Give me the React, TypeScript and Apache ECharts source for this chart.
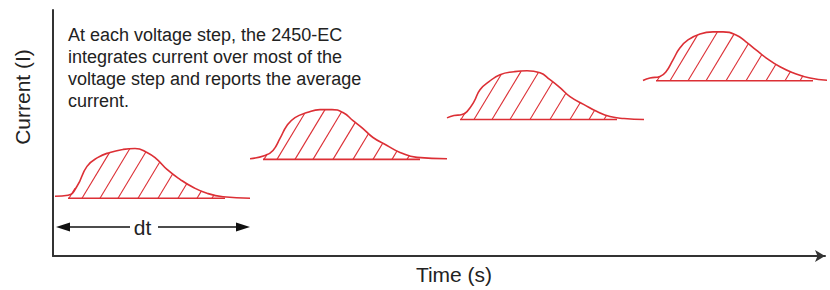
import React, { useEffect, useRef } from "react";
import * as echarts from "echarts";

// ---- data (time and current in arbitrary units) ----
const stepStart = [2, 197, 394, 590]; // time at which each voltage step begins
const stepBase = [58, 97, 137, 176]; // baseline current during each step

// current transient for each step: [time since step, current above baseline]
const hump1: number[][] = [[0, 2], [13, 3], [22, 12], [32, 32], [43, 41], [55, 46], [68, 49], [80, 50], [92, 46], [102, 39], [112, 29], [125, 19], [138, 11], [152, 5], [168, 1.5], [195, 0]];
const hump2: number[][] = [[0, 0.7], [15, 4], [23, 9], [30, 21], [37, 34], [45, 42], [57, 47], [70, 50], [82, 50], [93, 47], [103, 39], [113, 31], [123, 22], [137, 14], [150, 7], [167, 2], [197, 0.7]];
const hump3: number[][] = [[0, 1.7], [7, 4], [15, 5], [20, 8], [27, 18], [33, 30], [42, 38], [53, 45], [67, 48], [80, 49], [93, 47], [103, 40], [113, 32], [123, 23], [137, 15], [150, 8], [163, 3], [177, 1], [197, 0]];
const hump4: number[][] = [[0, 0.3], [7, 2.7], [17, 4.3], [23, 9], [30, 21], [37, 33], [45, 41], [57, 47], [70, 49], [80, 49], [93, 46], [103, 39], [113, 31], [123, 23], [137, 14], [150, 8], [167, 2.7], [187, 0.3]];
const humps = [hump1, hump2, hump3, hump4];

// integration window inside each step and hatch lines
const integrationWindow = [13, 170];
const hatchOffsets = [14, 27, 45, 63, 83, 103, 123, 142, 157];
const hatchSlope = 0.6;

// dt arrow
const dtArrow = [10, 190];
const dtGap = [77, 105];
const dtLevel = 29;
const dtLabelAt = 89.5;

const noteLines = [
  "At each voltage step, the 2450-EC",
  "integrates current over most of the",
  "voltage step and reports the average",
  "current.",
];

const RED = "#dc2f35";
const FONT = "'Liberation Sans', Arial, sans-serif";

function heightAt(profile: number[][], dx: number): number {
  if (dx <= profile[0][0]) return profile[0][1];
  for (let i = 1; i < profile.length; i++) {
    const [x1, y1] = profile[i];
    const [x0, y0] = profile[i - 1];
    if (dx <= x1) return y0 + ((y1 - y0) * (dx - x0)) / (x1 - x0);
  }
  return 0;
}

function hatchTop(profile: number[][], b: number): number {
  for (let t = 0.5; t < 80; t += 0.1) {
    if (heightAt(profile, b + hatchSlope * t) <= t) return t;
  }
  return 0;
}

function buildOption() {
  const series: any[] = [];
  const hatchData: any[] = [];
  humps.forEach((profile, i) => {
    const s = stepStart[i];
    const base = stepBase[i];
    series.push({
      type: "line",
      data: profile.map(([dx, h]) => [s + dx, base + h]),
      smooth: 0.5,
      showSymbol: false,
      clip: false,
      silent: true,
      lineStyle: { color: RED, width: 1.6 },
    });
    const baseSeries: any = {
      type: "line",
      data: [
        [s + integrationWindow[0], base],
        [s + integrationWindow[1], base],
      ],
      showSymbol: false,
      silent: true,
      lineStyle: { color: RED, width: 1.6 },
    };
    if (i === 0) {
      baseSeries.markLine = {
        silent: true,
        animation: false,
        lineStyle: { color: "#111", width: 1.5, type: "solid" },
        label: { show: false },
        data: [
          [
            { coord: [dtArrow[0], dtLevel], symbol: "triangle", symbolSize: [9, 14] },
            { coord: [dtGap[0], dtLevel], symbol: "none" },
          ],
          [
            { coord: [dtGap[1], dtLevel], symbol: "none" },
            { coord: [dtArrow[1], dtLevel], symbol: "triangle", symbolSize: [9, 14] },
          ],
        ],
      };
      baseSeries.markPoint = {
        silent: true,
        animation: false,
        symbol: "circle",
        symbolSize: 1,
        itemStyle: { color: "rgba(0,0,0,0)" },
        label: {
          show: true,
          position: "inside",
          formatter: "dt",
          color: "#222",
          fontSize: 21,
          fontFamily: FONT,
        },
        data: [{ coord: [dtLabelAt, dtLevel] }],
      };
    }
    series.push(baseSeries);
    hatchOffsets.forEach((b) => {
      const t = hatchTop(profile, b);
      if (t > 0) {
        hatchData.push({
          coords: [
            [s + b, base],
            [s + b + hatchSlope * t, base + t],
          ],
        });
      }
    });
  });
  series.push({
    type: "lines",
    coordinateSystem: "cartesian2d",
    silent: true,
    data: hatchData,
    lineStyle: { color: RED, width: 1.1, opacity: 1 },
  });

  return {
    animation: false,
    backgroundColor: "#fff",
    textStyle: { fontFamily: FONT },
    grid: { left: 53, right: 5, top: 10, bottom: 33 },
    xAxis: {
      type: "value",
      min: 0,
      max: 772,
      name: "Time (s)",
      nameLocation: "middle",
      nameGap: 8,
      nameTextStyle: {
        fontSize: 21,
        color: "#222",
        fontFamily: FONT,
        verticalAlign: "top",
        padding: [0, 0, 0, 30],
      },
      axisLine: {
        show: true,
        symbol: ["none", "arrow"],
        symbolSize: [9, 10],
        lineStyle: { color: "#333", width: 2 },
      },
      axisTick: { show: false },
      axisLabel: { show: false },
      splitLine: { show: false },
    },
    yAxis: {
      type: "value",
      min: 0,
      max: 247,
      name: "Current (I)",
      nameLocation: "middle",
      nameGap: 20,
      nameTextStyle: {
        fontSize: 21,
        color: "#222",
        fontFamily: FONT,
        padding: [0, 0, 0, 72],
      },
      axisLine: { show: true, onZero: false, lineStyle: { color: "#333", width: 2 } },
      axisTick: { show: false },
      axisLabel: { show: false },
      splitLine: { show: false },
    },
    graphic: [
      {
        type: "text",
        left: 68,
        top: 24,
        silent: true,
        style: {
          text: noteLines.join("\n"),
          font: `18px ${FONT}`,
          lineHeight: 22,
          fill: "#222",
        },
      },
    ],
    series,
  };
}

export default function App() {
  const ref = useRef<HTMLDivElement>(null);
  useEffect(() => {
    if (!ref.current) return;
    const chart = echarts.init(ref.current, null, { renderer: "svg" });
    chart.setOption(buildOption() as any);
    return () => chart.dispose();
  }, []);
  return (
    <div
      ref={ref}
      style={{ position: "absolute", left: 0, top: 0, width: 830, height: 290, background: "#fff" }}
    />
  );
}
